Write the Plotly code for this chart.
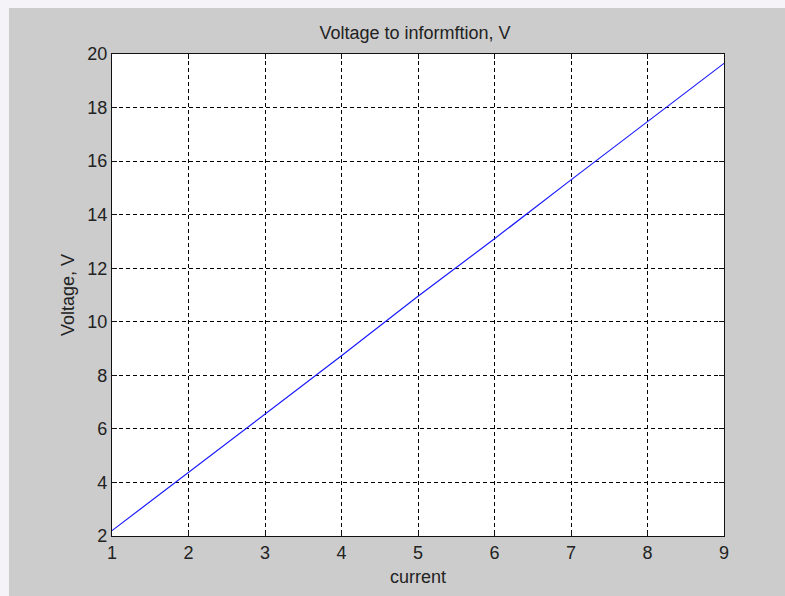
import plotly.graph_objects as go

current = [1, 2, 3, 4, 5, 6, 7, 8, 9]
voltage = [2.2, 4.38, 6.55, 8.73, 10.95, 13.1, 15.3, 17.48, 19.65]

x_ticks = [1, 2, 3, 4, 5, 6, 7, 8, 9]
y_ticks = [2, 4, 6, 8, 10, 12, 14, 16, 18, 20]

FONT = "Liberation Sans, Arial, sans-serif"

fig = go.Figure()
fig.add_trace(go.Scatter(x=current, y=voltage, mode="lines",
                         line=dict(color="#1a1aff", width=1.2),
                         showlegend=False, hoverinfo="skip"))

axis_common = dict(
    showline=True, linecolor="#111111", linewidth=1.2, mirror="ticks",
    ticks="inside", ticklen=5, tickcolor="#111111", tickwidth=1,
    showgrid=True, gridcolor="#000000", gridwidth=1, griddash="4px,3px",
    zeroline=False,
    tickfont=dict(family=FONT, size=18, color="#222222"),
)

fig.update_xaxes(range=[1, 9], tickvals=x_ticks, ticktext=[str(v) for v in x_ticks],
                 title=dict(text="current", font=dict(family=FONT, size=18, color="#222222"), standoff=8),
                 **axis_common)
fig.update_yaxes(range=[2, 20], tickvals=y_ticks, ticktext=[str(v) for v in y_ticks],
                 title=dict(text="Voltage, V", font=dict(family=FONT, size=18, color="#222222"), standoff=7),
                 **axis_common)

fig.update_layout(
    width=785, height=596,
    margin=dict(l=112, r=61, t=54, b=60, autoexpand=False),
    paper_bgcolor="#cccccc",
    plot_bgcolor="#ffffff",
    title=dict(text="Voltage to informftion, V", x=415 / 785, xanchor="center",
               y=1 - 33 / 596, yanchor="middle", yref="container",
               font=dict(family=FONT, size=18, color="#222222")),
    shapes=[
        dict(type="rect", xref="paper", yref="paper", x0=-0.3, x1=1.3,
             y0=(536 - 8) / 482, y1=1.3, fillcolor="#f5f3f8", line=dict(width=0), layer="above"),
        dict(type="rect", xref="paper", yref="paper", x0=-0.3, x1=(9 - 112) / 612,
             y0=-0.3, y1=1.3, fillcolor="#f5f3f8", line=dict(width=0), layer="above"),
    ],
)

fig.write_html("out.html", config={"displayModeBar": False},
               post_script="document.body.style.margin='0';document.body.style.overflow='hidden';")
